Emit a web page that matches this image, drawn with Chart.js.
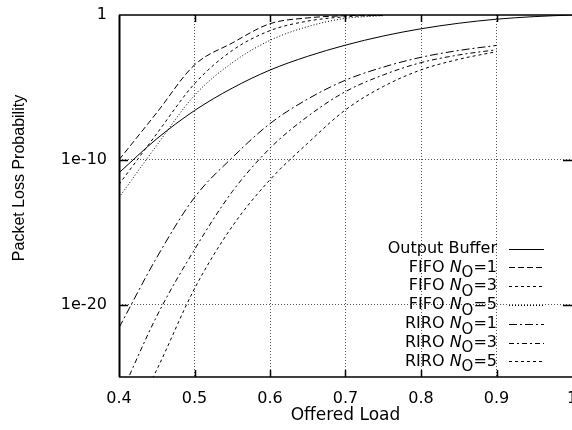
<!DOCTYPE html>
<html>
<head>
<meta charset="utf-8">
<script src="https://cdn.jsdelivr.net/npm/chart.js@4.4.1/dist/chart.umd.min.js"></script>
<style>
  html, body { margin: 0; padding: 0; background: #fff; }
  #wrap { position: relative; width: 572px; height: 430px; }
</style>
</head>
<body>
<div id="wrap"><canvas id="lossChart"></canvas></div>
<script>
// offered load (x) and packet loss probability for each buffer scheme
const offeredLoad = [0.40, 0.45, 0.50, 0.55, 0.60, 0.65, 0.70, 0.75, 0.80, 0.85, 0.90, 0.95, 1.00];

const outputBuffer = [1.26e-11, 2.82e-9, 2.51e-7, 8.91e-6, 1.58e-4, 1.41e-3, 8.32e-3, 0.0355, 0.112, 0.269, 0.513, 0.776, 1];
const fifoN1 = [1.0e-10, 1.78e-7, 3.55e-4, 1.17e-2, 0.251, 0.631, 0.891, 0.977, null, null, null, null, null];
const fifoN3 = [2.0e-12, 6.31e-9, 1.78e-5, 3.55e-3, 8.32e-2, 0.380, 0.759, 0.955, null, null, null, null, null];
const fifoN5 = [2.51e-13, 1.0e-9, 2.82e-6, 5.01e-4, 1.78e-2, 0.158, 0.589, 0.891, null, null, null, null, null];
const riroN1 = [2.51e-22, 1.78e-17, 2.51e-13, 1.41e-10, 3.16e-8, 1.58e-6, 3.16e-5, 2.51e-4, 1.2e-3, 3.55e-3, 7.94e-3, null, null];
const riroN3 = [3.16e-27, 1.58e-21, 6.31e-17, 6.31e-13, 6.31e-10, 1.0e-7, 5.13e-6, 7.24e-5, 5.13e-4, 1.74e-3, 3.98e-3, null, null];
const riroN5 = [3.16e-30, 3.16e-25, 1.26e-19, 2.51e-15, 4.17e-12, 1.41e-9, 2.82e-7, 1.15e-5, 1.62e-4, 8.71e-4, 2.95e-3, null, null];

const seriesNames = ['Output Buffer', 'FIFO', 'FIFO', 'FIFO', 'RIRO', 'RIRO', 'RIRO'];
const outputNumbers = [null, 1, 3, 5, 1, 3, 5];

const xTickValues = [0.4, 0.5, 0.6, 0.7, 0.8, 0.9, 1.0];
const xTickLabels = ['0.4', '0.5', '0.6', '0.7', '0.8', '0.9', '1'];
const yTickValues = [1e-20, 1e-10, 1];
const yTickLabels = ['1e-20', '1e-10', '1'];

const seriesValues = [outputBuffer, fifoN1, fifoN3, fifoN5, riroN1, riroN3, riroN5];
const dashes = [[], [6, 3], [3, 3], [1, 2], [8, 3, 2, 3], [5, 3, 2, 3], [3, 3]];

const tickFont = { family: 'DejaVu Sans', size: 16 };

function fullLabel(i) {
  return outputNumbers[i] == null ? seriesNames[i] : seriesNames[i] + ' N_O=' + outputNumbers[i];
}

// frame, inside tick marks, y title and the legend (with subscripts)
const frameAndLegend = {
  id: 'frameAndLegend',
  afterDraw(chart) {
    const { ctx, chartArea: a, scales: { x, y } } = chart;
    ctx.save();
    ctx.strokeStyle = '#000';
    ctx.setLineDash([]);

    // frame (the right edge sits at the canvas border)
    ctx.lineWidth = 1.3;
    ctx.beginPath();
    ctx.moveTo(a.right, a.top);
    ctx.lineTo(a.left, a.top);
    ctx.stroke();
    ctx.beginPath();
    ctx.moveTo(a.left, a.bottom);
    ctx.lineTo(a.right, a.bottom);
    ctx.stroke();
    ctx.lineWidth = 2;
    ctx.beginPath();
    ctx.moveTo(a.left + 0.5, a.top);
    ctx.lineTo(a.left + 0.5, a.bottom);
    ctx.stroke();

    // ticks pointing inwards, mirrored on top / right
    ctx.lineWidth = 1.5;
    xTickValues.slice(1, -1).forEach(v => {
      const px = Math.round(x.getPixelForValue(v)) + 0.5;
      ctx.beginPath();
      ctx.moveTo(px, a.bottom); ctx.lineTo(px, a.bottom - 7);
      ctx.moveTo(px, a.top); ctx.lineTo(px, a.top + 7);
      ctx.stroke();
    });
    ctx.lineWidth = 1.3;
    yTickValues.slice(0, -1).forEach(v => {
      const py = Math.round(y.getPixelForValue(v)) + 0.5;
      ctx.beginPath();
      ctx.moveTo(a.left, py); ctx.lineTo(a.left + 9, py);
      ctx.moveTo(a.right, py); ctx.lineTo(a.right - 9, py);
      ctx.stroke();
    });

    // y axis title
    ctx.fillStyle = '#000';
    ctx.save();
    ctx.translate(20, 178);
    ctx.rotate(-Math.PI / 2);
    ctx.font = '16px "Liberation Sans"';
    ctx.textAlign = 'center';
    ctx.textBaseline = 'middle';
    ctx.fillText('Packet Loss Probability', 0, 0);
    ctx.restore();

    // legend
    const normal = '16px "DejaVu Sans"';
    const italic = 'italic 16px "DejaVu Sans"';
    const small = '15px "DejaVu Sans"';
    const textRight = 497, sampleLeft = 509, sampleRight = 544;
    const firstRow = 248.6, rowStep = 18.8;
    ctx.textAlign = 'left';
    ctx.textBaseline = 'middle';
    chart.data.datasets.forEach((ds, i) => {
      const rowY = firstRow + i * rowStep;
      const parts = outputNumbers[i] == null
        ? [{ t: seriesNames[i], f: normal, dy: 0 }]
        : [
            { t: seriesNames[i] + ' ', f: normal, dy: 0 },
            { t: 'N', f: italic, dy: 0 },
            { t: 'O', f: small, dy: 6 },
            { t: '=' + outputNumbers[i], f: normal, dy: 0 }
          ];
      let total = 0;
      parts.forEach(p => { ctx.font = p.f; p.w = ctx.measureText(p.t).width; total += p.w; });
      let cx = textRight - total;
      parts.forEach(p => {
        ctx.font = p.f;
        ctx.fillText(p.t, cx, rowY + p.dy);
        cx += p.w;
      });
      ctx.lineWidth = 1;
      ctx.setLineDash(ds.borderDash);
      ctx.beginPath();
      ctx.moveTo(sampleLeft, Math.round(rowY) + 0.5);
      ctx.lineTo(sampleRight, Math.round(rowY) + 0.5);
      ctx.stroke();
    });
    ctx.restore();
  }
};

new Chart(document.getElementById('lossChart'), {
  type: 'line',
  data: {
    labels: offeredLoad,
    datasets: seriesValues.map((vals, i) => ({
      label: fullLabel(i),
      data: vals.map((v, k) => ({ x: offeredLoad[k], y: v })),
      borderColor: '#000',
      borderWidth: 1,
      borderDash: dashes[i],
      pointRadius: 0,
      fill: false,
      cubicInterpolationMode: 'monotone'
    }))
  },
  options: {
    animation: false,
    responsive: true,
    maintainAspectRatio: false,
    events: [],
    layout: { padding: { top: 15, right: 0, left: 0, bottom: 0 } },
    plugins: {
      legend: { display: false },
      tooltip: { enabled: false }
    },
    scales: {
      x: {
        type: 'linear',
        min: 0.4,
        max: 1.0,
        afterBuildTicks: scale => { scale.ticks = xTickValues.map(v => ({ value: v })); },
        afterFit: scale => { scale.height = 53; scale.paddingLeft = 0; scale.paddingRight = 0; },
        ticks: {
          autoSkip: false,
          maxRotation: 0,
          padding: 12,
          color: '#000',
          font: tickFont,
          callback: (value, index) => xTickLabels[index]
        },
        grid: {
          drawTicks: false,
          lineWidth: 1,
          color: c => (c.index === 0 || c.index === xTickValues.length - 1) ? 'rgba(0,0,0,0)' : '#555'
        },
        border: { display: false, dash: [1, 2] },
        title: {
          display: true,
          text: 'Offered Load',
          color: '#000',
          font: { family: 'DejaVu Sans', size: 17 },
          padding: { top: 0, bottom: 4 }
        }
      },
      y: {
        type: 'logarithmic',
        min: 1e-25,
        max: 1,
        afterBuildTicks: scale => { scale.ticks = yTickValues.map(v => ({ value: v })); },
        afterFit: scale => { scale.width = 119; scale.paddingTop = 0; scale.paddingBottom = 0; },
        ticks: {
          autoSkip: false,
          padding: 12,
          color: '#000',
          font: tickFont,
          callback: (value, index) => yTickLabels[index]
        },
        grid: {
          drawTicks: false,
          lineWidth: 1,
          color: c => (c.index === yTickValues.length - 1) ? 'rgba(0,0,0,0)' : '#555'
        },
        border: { display: false, dash: [1, 2] }
      }
    }
  },
  plugins: [frameAndLegend]
});
</script>
</body>
</html>
